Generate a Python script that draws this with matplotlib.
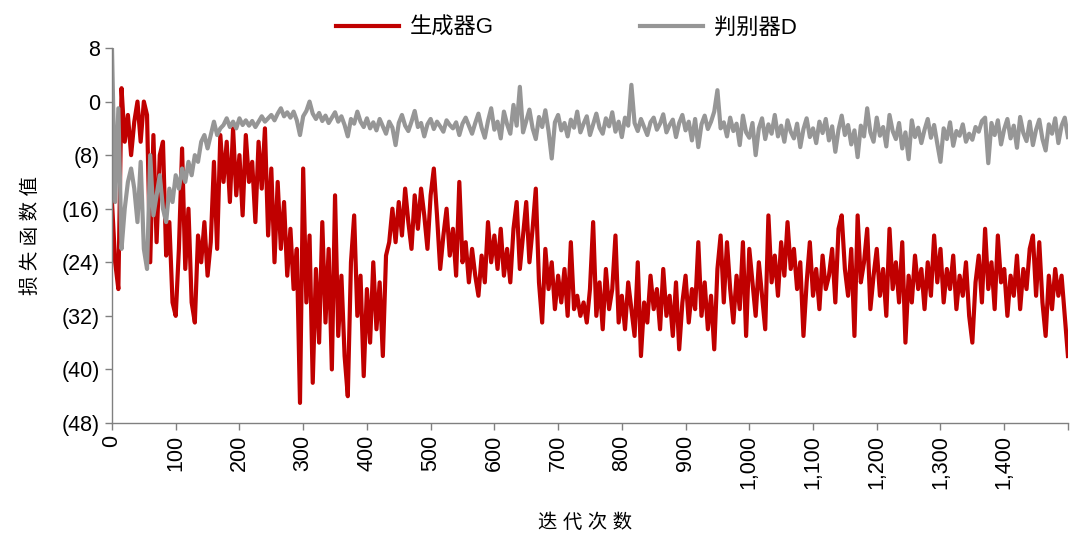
import numpy as np
import matplotlib
matplotlib.use("Agg")
import matplotlib.pyplot as plt
from matplotlib.ticker import FuncFormatter, MultipleLocator

plt.rcParams['font.family'] = ['Liberation Sans', 'Noto Sans CJK SC']

step = 5
gen_loss = [
    -15, -24, -28, 2, -6, -2, -8, -3, 0, -6,
    0, -2, -24, -5, -21, -8, -6, -23, -18, -30,
    -32, -22, -7, -25, -16, -30, -33, -20, -24, -18,
    -26, -21, -9, -22, -5, -12, -6, -15, -4, -14,
    -8, -17, -5, -12, -9, -18, -6, -13, -4, -20,
    -10, -24, -12, -22, -15, -26, -19, -28, -22, -45,
    -10, -30, -20, -42, -25, -36, -18, -33, -22, -40,
    -14, -35, -26, -38, -44, -24, -17, -32, -26, -41,
    -28, -36, -24, -34, -27, -38, -23, -21, -16, -21,
    -15, -20, -13, -18, -22, -14, -19, -13, -17, -22,
    -14, -10, -17, -25, -20, -16, -23, -19, -26, -12,
    -24, -21, -27, -22, -26, -29, -23, -27, -18, -24,
    -20, -25, -19, -26, -22, -27, -19, -15, -25, -20,
    -15, -24, -19, -13, -27, -33, -22, -28, -24, -31,
    -26, -30, -25, -32, -21, -31, -29, -32, -30, -33,
    -28, -18, -32, -27, -34, -25, -31, -28, -20, -33,
    -29, -34, -27, -31, -35, -24, -38, -30, -33, -26,
    -31, -28, -34, -25, -32, -29, -35, -27, -37, -30,
    -26, -33, -28, -31, -21, -32, -27, -34, -29, -37,
    -25, -20, -30, -21, -28, -33, -26, -31, -21, -35,
    -22, -27, -32, -24, -29, -34, -17, -27, -23, -29,
    -21, -26, -18, -25, -22, -28, -24, -35, -27, -21,
    -29, -25, -31, -23, -28, -26, -22, -30, -19, -17,
    -25, -29, -22, -35, -17, -27, -24, -19, -31, -26,
    -22, -29, -25, -32, -19, -28, -24, -30, -21, -36,
    -26, -30, -23, -28, -25, -31, -24, -29, -20, -27,
    -22, -30, -25, -28, -23, -31, -26, -29, -24, -32,
    -36, -27, -23, -30, -19, -28, -24, -31, -20, -27,
    -25, -32, -26, -29, -23, -31, -25, -28, -22, -20,
    -29, -21, -30, -35, -26, -31, -25, -29, -26, -32,
    -38,
]
disc_loss = [
    8, -15, -1, -22, -16, -12, -10, -13, -18, -9,
    -22, -25, -8, -17, -14, -11, -16, -18, -13, -15,
    -11, -13, -10, -12, -9, -11, -8, -9, -6, -5,
    -7, -5, -3, -5, -4, -3.5, -2.5, -3.8, -3, -4,
    -2.5, -3.5, -2.8, -3.6, -2.9, -3.8, -3, -2.2, -3, -2.5,
    -2, -2.8, -1.8, -1, -2.2, -1.6, -2.4, -1.5, -2.8, -5.0,
    -2.2, -1.4, 0, -1.8, -2.6, -1.7, -2.9, -2.1, -3.2, -2.4,
    -1.6, -3.0, -2.2, -3.5, -5.2, -2.6, -3.3, -1.5, -3.0, -3.8,
    -2.5, -4.0, -3.1, -4.3, -2.6, -3.7, -4.8, -3.0, -3.9, -6.5,
    -3.2, -2.0, -3.6, -4.4, -3.0, -1.4, -3.8, -3.2, -5.2, -3.4,
    -2.6, -4.1, -3.0, -3.7, -4.5, -2.8, -3.5, -4.0, -3.1, -5.0,
    -3.3, -2.4, -3.6, -4.8, -3.2, -1.8, -3.9, -5.4, -2.9, -1.0,
    -4.2, -3.0, -5.5, -1.5, -3.4, -4.8, -0.5, -3.6, 2.2, -4.6,
    -2.9, -1.2, -4.0, -5.6, -2.3, -3.8, -1.3, -4.4, -8.5, -3.1,
    -2.0, -4.3, -3.2, -5.2, -2.7, -3.9, -1.5, -4.6, -3.3, -2.2,
    -5.0, -3.4, -1.8, -3.9, -4.8, -2.5, -3.7, -1.6, -4.5, -3.0,
    -5.3, -2.4, -3.6, 2.5, -3.2, -4.4, -2.6, -3.8, -5.0, -3.1,
    -2.4, -4.2, -3.3, -1.9, -4.6, -3.5, -2.7, -5.3, -3.2, -2.0,
    -4.3, -3.0, -5.8, -2.6, -6.8, -3.4, -2.1, -4.1, -3.0, -1.5,
    1.7, -4.0, -3.1, -5.2, -2.4, -4.4, -3.3, -6.5, -2.1, -4.6,
    -5.4, -3.2, -8.0, -4.0, -2.5, -5.6, -3.4, -4.8, -2.0, -5.2,
    -3.6, -6.0, -2.8, -4.5, -5.5, -3.3, -6.8, -4.1, -2.5, -5.3,
    -4.0, -6.2, -3.0, -4.7, -2.6, -5.8, -3.7, -7.5, -4.2, -2.1,
    -5.0, -3.5, -6.4, -4.3, -8.3, -3.6, -5.2, -1.0, -4.6, -6.0,
    -2.4, -5.1, -3.8, -6.7, -2.0, -4.4, -5.6, -3.2, -7.0, -4.6,
    -8.6, -2.8, -5.3, -3.9, -6.2, -4.2, -2.6, -5.4, -3.5, -6.3,
    -9.0, -4.0, -5.6, -3.1, -6.6, -4.4, -5.1, -3.4, -6.0, -4.8,
    -5.7, -3.8, -4.5, -2.9, -2.4, -9.2, -3.2, -5.0, -2.8, -6.4,
    -4.1, -2.6, -5.5, -3.6, -6.9, -2.3, -4.7, -5.9, -3.0, -6.5,
    -4.2, -2.7, -5.6, -7.3, -3.4, -4.8, -2.5, -6.2, -3.6, -2.4,
    -5.3,
]
iters = np.arange(len(gen_loss)) * step

series_names = ['生成器G', '判别器D']
series_colors = ['#C00000', '#969696']

fig = plt.figure(figsize=(10.83, 5.43), dpi=100)
ax = fig.add_axes([0.1034, 0.221, 0.8827, 0.6906])

ax.plot(iters, gen_loss, color=series_colors[0], lw=3.0, label=series_names[0])
ax.plot(iters, disc_loss, color=series_colors[1], lw=3.0, label=series_names[1])

ax.set_xlim(0, 1500)
ax.set_ylim(-48, 8)
ax.yaxis.set_major_locator(MultipleLocator(8))
ax.xaxis.set_major_locator(MultipleLocator(100))


def y_fmt(v, pos):
    v = int(round(v))
    return f'({abs(v)})' if v < 0 else str(v)


def x_fmt(v, pos):
    v = int(round(v))
    return '' if v >= 1500 else f'{v:,}'


ax.yaxis.set_major_formatter(FuncFormatter(y_fmt))
ax.xaxis.set_major_formatter(FuncFormatter(x_fmt))

for s in ['top', 'right']:
    ax.spines[s].set_visible(False)
for s in ['left', 'bottom']:
    ax.spines[s].set_color('#808080')
    ax.spines[s].set_linewidth(1.0)
ax.tick_params(axis='both', colors='#808080', labelcolor='black', length=5,
               width=1.0, labelsize=15.5)
ax.tick_params(axis='x', labelrotation=90)

fig.text(0.028, 0.567, '损 失 函 数 值', rotation=90, fontsize=14,
         ha='center', va='center')
fig.text(0.54, 0.037, '迭 代 次 数', fontsize=14, ha='center', va='center')

fig.legend(loc='center', bbox_to_anchor=(0.523, 0.948), ncol=2, frameon=False,
           fontsize=16, handlelength=2.8, columnspacing=6.6, handletextpad=0.5)

fig.savefig('out.png', dpi=100)
